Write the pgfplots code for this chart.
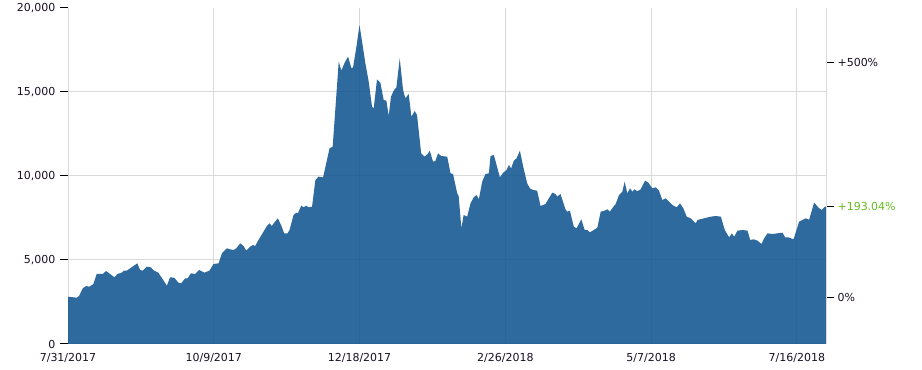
\documentclass[border=0pt]{standalone}
\usepackage{pgfplots}
\pgfplotsset{compat=1.18}
\usepackage{fontspec}
\setmainfont{DejaVu Sans}
\definecolor{areablue}{RGB}{18,85,145}
\definecolor{gridgray}{RGB}{217,217,217}
\definecolor{pctgreen}{RGB}{102,187,34}
\definecolor{labeltext}{RGB}{25,15,35}

\begin{document}
\begin{tikzpicture}
\path[use as bounding box] (0,0) rectangle (922bp,370bp);
\begin{axis}[
  at={(68bp,26bp)}, anchor=south west,
  scale only axis, width=758bp, height=336bp,
  xmin=0, xmax=364, ymin=0, ymax=20000,
  axis x line*=bottom, axis y line*=left,
  axis line style={gridgray, line width=1bp, -},
  xtick={0,70,140,210,280,350},
  xticklabels={7/31/2017,10/9/2017,12/18/2017,2/26/2018,5/7/2018,7/16/2018},
  xmajorgrids, major grid style={gridgray, line width=1bp},
  xtick style={draw=none},
  ytick={0,5000,10000,15000,20000},
  yticklabels={0,{5,000},{10,000},{15,000},{20,000}},
  ytick style={black, line width=1bp},
  tick align=outside, major tick length=8bp,
  extra y ticks={5000,10000,15000},
  extra y tick labels={},
  extra y tick style={ymajorgrids=true, ytick style={draw=none}},
  ticklabel style={font=\fontsize{11bp}{13bp}\selectfont, text=labeltext},
  yticklabel style={xshift=-1bp},
  xticklabel style={yshift=2bp},
  clip=false,
]
\addplot[draw=none, fill=areablue, fill opacity=0.88] table {
x y
0 2815
4.2 2756
5.3 2857
7.1 3315
8.7 3452
10.2 3411
12.2 3571
13.8 4167
16.7 4167
18.3 4345
20.2 4167
22.3 3968
23.7 4167
25.8 4246
26.9 4365
28.2 4365
30.3 4544
33.3 4802
34.6 4405
35.9 4365
37.8 4603
39.8 4563
41.3 4365
43.4 4246
47.5 3472
49.0 3968
51.0 3948
53.0 3651
54.3 3611
56.3 3909
57.4 3909
59.0 4206
61.1 4167
63.0 4405
65.5 4246
67.9 4365
69.9 4762
72.3 4802
73.9 5397
76.3 5694
77.9 5635
79.5 5595
80.8 5694
82.7 5992
84.3 5833
85.6 5556
87.5 5793
88.8 5893
89.9 5833
91.0 6091
93.9 6687
95.5 7024
96.8 7183
97.9 7024
99.0 7222
100.8 7480
102.3 7083
103.8 6587
105.4 6587
106.4 6786
108.3 7679
109.6 7817
110.4 7778
112.0 8234
113.1 8135
114.4 8234
115.5 8135
117.2 8174
118.8 9762
120.3 9960
122.5 9921
124.0 10754
125.6 11647
127.1 11746
130.0 16806
131.3 16270
132.7 16706
134.5 17103
136.1 16409
136.9 16468
138.5 17698
140.0 18988
142.8 16706
144.4 15615
146.0 14127
146.8 14028
148.4 15754
150.0 15556
151.6 14524
152.9 14484
154.0 13571
155.1 14722
156.4 15079
157.7 15278
159.3 17004
160.9 15119
162.0 14623
163.6 14881
164.9 13532
166.5 13869
167.6 13631
169.6 11349
171.2 11151
172.7 11310
173.7 11508
175.3 10853
176.4 10893
177.7 11349
179.2 11190
182.1 11151
183.7 10159
184.9 10119
186.9 8968
187.6 8810
188.9 6885
190.0 7679
191.7 7579
193.3 8373
194.8 8730
196.2 8869
197.3 8611
198.9 9663
200.5 10119
202.1 10159
202.9 11190
204.5 11250
207.4 9921
209.0 10198
210.6 10357
211.7 10655
212.8 10456
214.1 10913
215.4 11052
217.0 11508
218.6 10556
220.5 9563
221.8 9266
223.4 9167
225.3 9127
226.9 8214
229.3 8333
230.9 8671
232.6 9008
234.1 8929
234.9 8770
236.5 8929
238.9 8016
239.8 7877
241.0 7937
242.9 6984
244.2 6885
246.5 7421
248.1 6786
249.4 6786
250.6 6647
252.5 6786
254.2 6925
255.8 7877
257.7 7937
259.0 8016
260.2 7877
261.7 8135
263.0 8333
264.6 8869
266.2 9067
267.3 9663
268.6 8968
269.9 9266
271.0 9067
272.1 9206
273.4 9087
275.0 9206
277.1 9722
278.7 9603
280.6 9266
282.2 9325
283.8 9127
285.4 8571
287.0 8671
290.2 8274
292.3 8135
293.9 8373
295.5 8075
297.1 7579
299.0 7480
301.4 7183
302.3 7381
305.4 7480
308.7 7579
311.1 7619
313.5 7579
315.4 6786
317.5 6349
318.8 6587
319.9 6389
321.5 6746
323.9 6786
326.3 6746
327.6 6190
329.2 6230
331.1 6151
333.0 5952
334.3 6290
335.9 6587
338.3 6548
340.7 6587
343.1 6627
344.4 6349
346.0 6349
348.4 6230
351.1 7282
352.7 7381
354.3 7480
355.9 7401
358.3 8413
360.7 8075
361.9 7976
363.5 8175
364.0 8175
} \closedcycle;
\end{axis}
\begin{axis}[
  at={(68bp,26bp)}, anchor=south west,
  scale only axis, width=758bp, height=336bp,
  xmin=0, xmax=364, ymin=0, ymax=20000,
  axis x line=none, axis y line*=right,
  axis line style={gridgray, line width=1bp, -},
  ytick={2790,8175,16740},
  yticklabels={0\%,{\textcolor{pctgreen}{+193.04\%}},+500\%},
  ytick style={black, line width=1bp},
  tick align=outside, major tick length=8bp,
  ticklabel style={font=\fontsize{11bp}{13bp}\selectfont, text=labeltext},
  yticklabel style={xshift=0bp},
]
\end{axis}
\end{tikzpicture}
\end{document}
